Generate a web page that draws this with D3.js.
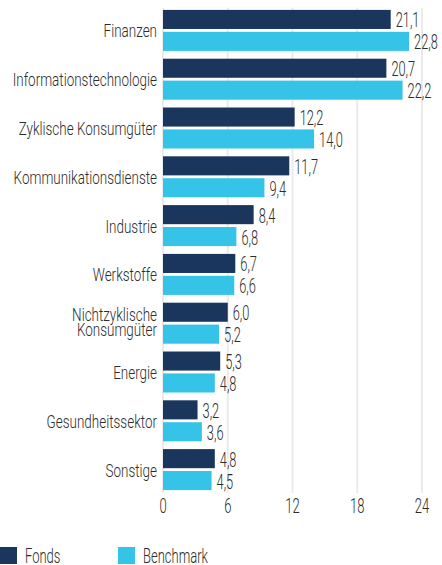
<!DOCTYPE html>
<html>
<head>
<meta charset="utf-8">
<script src="https://cdn.jsdelivr.net/npm/d3@7"></script>
<style>
  body { margin: 0; background: #fff; }
  text { font-family: Roboto, "Noto Sans", sans-serif; font-weight: 300; fill: #2b2b2b; }
</style>
</head>
<body>
<svg id="my_svg"></svg>
<script>
const width = 442;
const height = 565;

// Daten
const categories = ['Finanzen', 'Informationstechnologie', 'Zyklische Konsumgüter', 'Kommunikationsdienste',
  'Industrie', 'Werkstoffe', 'Nichtzyklische Konsumgüter', 'Energie', 'Gesundheitssektor', 'Sonstige'];
const fonds = [21.1, 20.7, 12.2, 11.7, 8.4, 6.7, 6.0, 5.3, 3.2, 4.8];
const benchmark = [22.8, 22.2, 14.0, 9.4, 6.8, 6.6, 5.2, 4.8, 3.6, 4.5];
const seriesNames = ['Fonds', 'Benchmark'];
const ticks = [0, 6, 12, 18, 24];
const colors = ['#1b365d', '#35c3e8'];

const svg = d3.select('#my_svg')
  .attr('width', width)
  .attr('height', height);

// schmale Schrift: Text horizontal stauchen
function narrowText(sel, x, y, str, size, sx, anchor) {
  return sel.append('g')
    .attr('transform', `translate(${x}, ${y}) scale(${sx}, 1)`)
    .append('text')
    .attr('text-anchor', anchor || 'start')
    .style('font-size', size + 'px')
    .text(str);
}

const xScale = d3.scaleLinear()
  .domain([0, 24])
  .range([163, 422]);

const yScale = d3.scaleBand()
  .domain(categories)
  .range([6, 494])
  .paddingInner(0.16)
  .paddingOuter(0.08);

const subScale = d3.scaleBand()
  .domain(seriesNames)
  .range([0, yScale.bandwidth()])
  .paddingInner(0.13);

// Gitterlinien
svg.append('g')
  .selectAll('line')
  .data(ticks)
  .enter()
  .append('line')
  .attr('x1', d => xScale(d))
  .attr('x2', d => xScale(d))
  .attr('y1', 8)
  .attr('y2', 493)
  .attr('stroke', '#ebebeb')
  .attr('stroke-width', 2);

// Balken
const rows = categories.map((c, i) => ({ cat: c, values: [fonds[i], benchmark[i]] }));
const group = svg.append('g')
  .selectAll('g')
  .data(rows)
  .enter()
  .append('g')
  .attr('transform', d => `translate(0, ${yScale(d.cat)})`);

group.selectAll('rect')
  .data(d => d.values.map((v, j) => ({ name: seriesNames[j], v: v, j: j })))
  .enter()
  .append('rect')
  .attr('x', xScale(0))
  .attr('y', d => subScale(d.name))
  .attr('width', d => xScale(d.v) - xScale(0))
  .attr('height', subScale.bandwidth())
  .attr('fill', d => colors[d.j]);

// Werte und Kategorien
group.each(function (d) {
  const g = d3.select(this);
  d.values.forEach((v, j) => {
    const name = seriesNames[j];
    narrowText(g, xScale(v) + 5, subScale(name) + subScale.bandwidth() / 2 + 8,
      d3.format('.1f')(v).replace('.', ','), 21, 0.61);
  });
  const mid = yScale.bandwidth() / 2;
  if (d.cat === 'Nichtzyklische Konsumgüter') {
    narrowText(g, 157, mid - 2.5, 'Nichtzyklische', 18.7, 0.72, 'end');
    narrowText(g, 157, mid + 12.8, 'Konsumgüter', 18.7, 0.72, 'end');
  } else {
    narrowText(g, 157, mid + 7, d.cat, 18.7, 0.72, 'end');
  }
});

// x-Achse
const axis = svg.append('g');
ticks.forEach(t => narrowText(axis, xScale(t), 512.5, t, 19.7, 0.66, 'middle'));

// Legende
const legend = svg.append('g')
  .selectAll('g')
  .data(seriesNames)
  .enter()
  .append('g')
  .attr('transform', (d, i) => `translate(${i * 118}, 547)`);
legend.append('rect')
  .attr('width', 17)
  .attr('height', 17)
  .attr('fill', (d, i) => colors[i]);
legend.each(function (d) {
  narrowText(d3.select(this), 25, 16.3, d, 19.7, 0.66);
});
</script>
</body>
</html>
